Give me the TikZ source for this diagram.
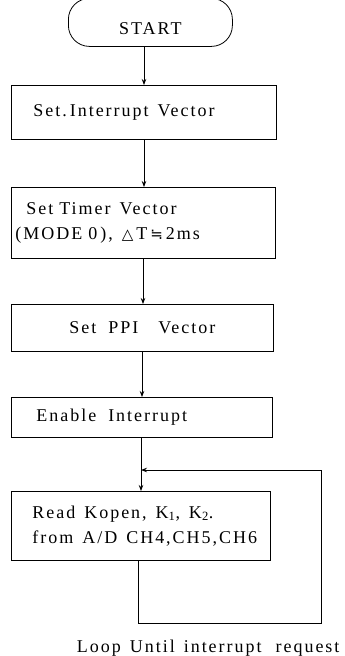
\documentclass[tikz,border=0pt]{standalone}
\usepackage{fontspec}
\setmainfont{Liberation Serif}[LetterSpace=11]
\newfontfamily\symfont{DejaVu Sans}
\usetikzlibrary{arrows.meta}
\newcommand\symch[1]{{\symfont\fontsize{15}{25}\selectfont #1}}
\newcommand\chartfont{\fontsize{18}{25}\selectfont}
\newcommand\wsp{\hspace{9pt}}
\begin{document}
\begin{tikzpicture}[x=1pt,y=-1pt,
  every node/.style={font=\chartfont},
  stepbox/.style={draw,line width=0.8pt,rectangle,inner ysep=0pt,anchor=north west},
  flow/.style={line width=0.8pt,-{Stealth[length=6pt,width=4.5pt]}},
  wire/.style={line width=0.8pt}]
\useasboundingbox (0,0) rectangle (345,656);

% terminal
\node[draw,line width=0.8pt,rounded corners=21pt,minimum width=164pt,minimum height=48pt,
  anchor=north west,inner sep=0pt,text height=24pt,text depth=0pt] (start) at (68,-2) {START};

% process boxes
\node[stepbox,minimum width=265pt,minimum height=54pt,text width=221pt,inner xsep=22pt,align=left]
  (b1) at (11,85) {\mbox{Set.\hspace{3pt}Interrupt\wsp Vector}};
\node[stepbox,minimum width=264pt,minimum height=71pt,text width=256pt,inner xsep=4pt,align=left]
  (b2) at (11,187) {\mbox{\hspace*{11pt}Set\hspace{6pt}Timer\wsp Vector}\\\mbox{(MODE\hspace{6pt}0\,),\wsp\symch{△}\,T\,\symch{≒}\,2ms}};
\node[stepbox,minimum width=262pt,minimum height=47pt,align=center]
  (b3) at (11,304) {Set\hspace{12pt}PPI\hspace{20pt}Vector};
\node[stepbox,minimum width=261pt,minimum height=40pt,text width=211pt,inner xsep=25pt,align=left]
  (b4) at (11,397) {\mbox{Enable\hspace{12pt}Interrupt}};
\node[stepbox,minimum width=259pt,minimum height=69pt,text width=217pt,inner xsep=21pt,align=left]
  (b5) at (11,491) {\mbox{Read\wsp Kopen,\wsp K\textsubscript{1},\wsp K\textsubscript{2}.}\\\mbox{from\wsp A/D\wsp CH4,CH5,CH6}};

% main flow
\draw[flow] (start.south -| 144,0) -- (b1.north -| 144,0);
\draw[flow] (b1.south -| 144,0) -- (b2.north -| 144,0);
\draw[flow] (b2.south -| 143,0) -- (b3.north -| 143,0);
\draw[flow] (b3.south -| 142,0) -- (b4.north -| 142,0);
\draw[flow] (b4.south -| 141,0) -- (b5.north -| 141,0);

% waiting loop
\coordinate (lb) at (138,623);
\coordinate (rb) at (321,623);
\coordinate (rt) at (321,470);
\coordinate (jn) at (141,470);
\draw[wire] (b5.south -| lb) -- (lb) -- (rb) -- (rt);
\draw[flow] (rt) -- (jn);

\node[anchor=base east] (lbl) at (343,652) {Loop\wsp Until\wsp interrupt\hspace{14pt}request};
\end{tikzpicture}
\end{document}
